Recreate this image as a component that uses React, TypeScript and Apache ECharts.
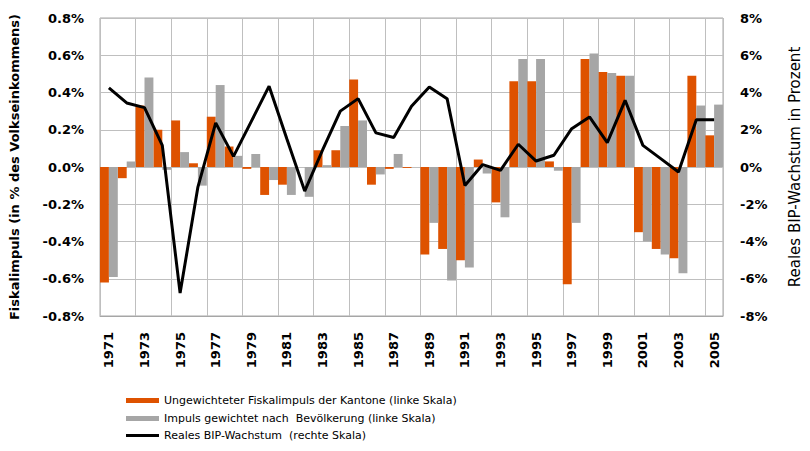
import React, { useEffect, useRef } from "react";
import * as echarts from "echarts";

const years = [
  "1971","1972","1973","1974","1975","1976","1977","1978","1979","1980",
  "1981","1982","1983","1984","1985","1986","1987","1988","1989","1990",
  "1991","1992","1993","1994","1995","1996","1997","1998","1999","2000",
  "2001","2002","2003","2004","2005",
];

const unweighted = [
  -0.62, -0.06, 0.33, 0.2, 0.25, 0.02, 0.27, 0.11, -0.01, -0.15,
  -0.095, 0.0, 0.09, 0.09, 0.47, -0.095, -0.01, -0.005, -0.47, -0.44,
  -0.5, 0.04, -0.19, 0.46, 0.46, 0.03, -0.63, 0.58, 0.51, 0.49,
  -0.35, -0.44, -0.49, 0.49, 0.17,
];

const weighted = [
  -0.59, 0.03, 0.48, -0.015, 0.08, -0.1, 0.44, 0.06, 0.07, -0.07,
  -0.15, -0.16, 0.01, 0.22, 0.25, -0.04, 0.07, 0.0, -0.3, -0.61,
  -0.54, -0.035, -0.27, 0.58, 0.58, -0.02, -0.3, 0.61, 0.505, 0.49,
  -0.4, -0.47, -0.57, 0.33, 0.335,
];

const gdpGrowth = [
  4.25, 3.44, 3.19, 1.16, -6.77, -1.08, 2.37, 0.57, 2.45, 4.34,
  1.5, -1.29, 0.9, 3.0, 3.67, 1.83, 1.58, 3.26, 4.3, 3.67,
  -0.99, 0.13, -0.18, 1.22, 0.32, 0.63, 2.06, 2.69, 1.31, 3.58,
  1.16, 0.45, -0.27, 2.54, 2.54,
];

const leftTicks = { min: -0.8, max: 0.8, interval: 0.2 };
const rightTicks = { min: -8, max: 8, interval: 2 };

const seriesNames = [
  "Ungewichteter Fiskalimpuls der Kantone (linke Skala)",
  "Impuls gewichtet nach  Bevölkerung (linke Skala)",
  "Reales BIP-Wachstum  (rechte Skala)",
];

const FONT = "'DejaVu Sans', sans-serif";

export default function App() {
  const ref = useRef<HTMLDivElement>(null);
  useEffect(() => {
    document.body.style.margin = "0";
    if (!ref.current) return;
    const chart = echarts.init(ref.current, null, { renderer: "svg" });
    const legendBase = {
      orient: "horizontal",
      left: 121,
      itemWidth: 33,
      itemGap: 10,
      textStyle: { fontFamily: FONT, fontSize: 11, color: "#000" },
    };
    chart.setOption({
      animation: false,
      textStyle: { fontFamily: FONT },
      grid: {
        left: 98,
        right: 74,
        top: 18,
        bottom: 135,
        show: true,
        borderColor: "#A6A6A6",
        borderWidth: 1,
        containLabel: false,
      },
      legend: [
        { ...legendBase, top: 390, itemHeight: 5, data: [{ name: seriesNames[0], icon: "rect" }] },
        { ...legendBase, top: 408, itemHeight: 5, data: [{ name: seriesNames[1], icon: "rect" }] },
        { ...legendBase, top: 425, itemHeight: 3, data: [{ name: seriesNames[2], icon: "rect" }] },
      ],
      xAxis: {
        type: "category",
        data: years,
        axisLine: { show: true, onZero: false, lineStyle: { color: "#A6A6A6" } },
        axisTick: { show: false },
        axisLabel: {
          interval: 1,
          rotate: 90,
          margin: 16,
          fontFamily: FONT,
          fontWeight: "bold",
          fontSize: 13,
          color: "#000",
        },
        splitLine: { show: true, interval: 1, lineStyle: { color: "#BFBFBF" } },
      },
      yAxis: [
        {
          type: "value",
          min: leftTicks.min,
          max: leftTicks.max,
          interval: leftTicks.interval,
          name: "Fiskalimpuls (in % des Volkseinkommens)",
          nameLocation: "middle",
          nameGap: 79,
          nameTextStyle: { fontFamily: FONT, fontWeight: "bold", fontSize: 13, color: "#000" },
          axisLine: { show: false },
          axisTick: { show: false },
          axisLabel: {
            margin: 16,
            formatter: (v: number) => v.toFixed(1) + "%",
            fontFamily: FONT,
            fontWeight: "bold",
            fontSize: 13,
            color: "#000",
          },
          splitLine: { show: true, lineStyle: { color: "#BFBFBF" } },
        },
        {
          type: "value",
          min: rightTicks.min,
          max: rightTicks.max,
          interval: rightTicks.interval,
          name: "Reales BIP-Wachstum in Prozent",
          nameLocation: "middle",
          nameGap: 64,
          nameRotate: 90,
          nameTextStyle: { fontFamily: FONT, fontSize: 15, color: "#000" },
          axisLine: { show: false },
          axisTick: { show: false },
          axisLabel: {
            margin: 17,
            formatter: (v: number) => Math.round(v) + "%",
            fontFamily: FONT,
            fontWeight: "bold",
            fontSize: 13,
            color: "#000",
          },
          splitLine: { show: false },
        },
      ],
      series: [
        {
          name: seriesNames[0],
          type: "bar",
          data: unweighted,
          barGap: "0%",
          barCategoryGap: "0%",
          itemStyle: { color: "#DE5200" },
        },
        {
          name: seriesNames[1],
          type: "bar",
          data: weighted,
          barGap: "0%",
          barCategoryGap: "0%",
          itemStyle: { color: "#A6A6A6" },
        },
        {
          name: seriesNames[2],
          type: "line",
          yAxisIndex: 1,
          data: gdpGrowth,
          symbol: "none",
          lineStyle: { color: "#000", width: 3 },
          itemStyle: { color: "#000" },
          z: 5,
        },
      ],
    });
    return () => chart.dispose();
  }, []);
  return <div ref={ref} style={{ width: 810, height: 451 }} />;
}
